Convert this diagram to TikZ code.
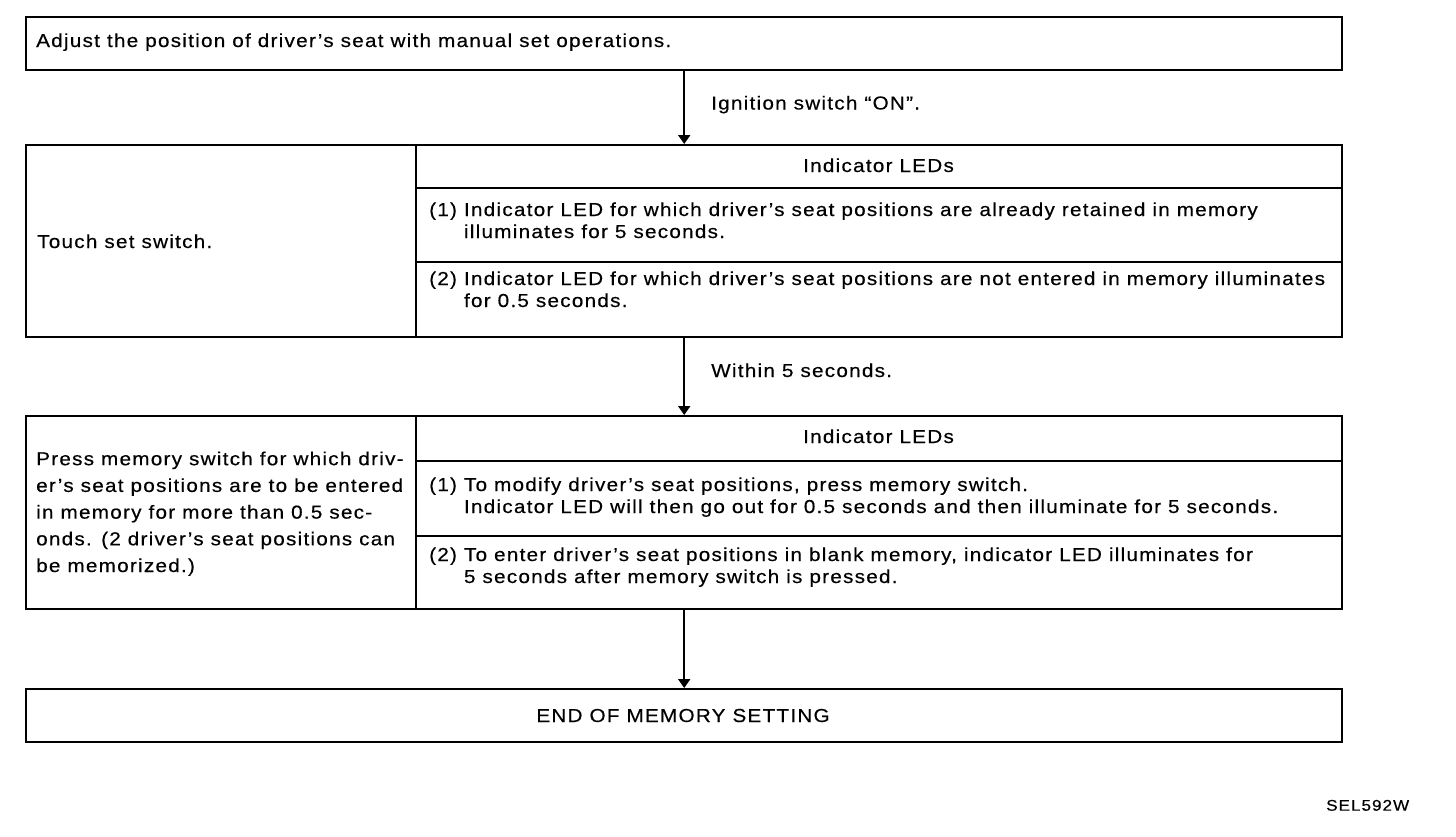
\documentclass[tikz,border=0pt]{standalone}
\usepackage{fontspec}
\setmainfont{Liberation Sans}[FakeStretch=1.1,LetterSpace=6.7,FakeBold=0.4]
\usetikzlibrary{arrows.meta}

\tikzset{
  box/.style={draw,line width=2.4pt,anchor=north west,inner sep=0pt,minimum width=1316pt},
  thick rule/.style={line width=2.4pt},
  thin rule/.style={line width=1.3pt},
  txt/.style={anchor=base west,inner sep=0pt,align=left,font=\fontsize{18.8}{22}\selectfont},
  ctxt/.style={txt,anchor=base},
  arrow/.style={line width=2pt,-{Triangle[width=12pt,length=9pt]}}
}
\newcommand{\hangin}{\phantom{(1) }}

\begin{document}
\begin{tikzpicture}[x=1pt,y=-1pt]
\useasboundingbox (0,0) rectangle (1456,836);

% the four frames
\node[box,minimum height=53pt] (adjust) at (25,16) {};
\node[box,minimum height=192pt] (touch) at (25,144) {};
\node[box,minimum height=193pt] (press) at (25,415) {};
\node[box,minimum height=53pt] (endset) at (25,688) {};

% inner rules
\draw[thick rule] (416,144) -- (416,336);
\draw[thin rule] (416,188) -- (1341,188);
\draw[thick rule] (416,262) -- (1341,262);
\draw[thick rule] (416,415) -- (416,608);
\draw[thin rule] (416,461) -- (1341,461);
\draw[thick rule] (416,536) -- (1341,536);

% connectors
\draw[arrow] (adjust.south) -- (touch.north);
\draw[arrow] (touch.south) -- (press.north);
\draw[arrow] (press.south) -- (endset.north);
\node[txt] (ignition) at (711,109.5) {Ignition switch “ON”.};
\node[txt] (within) at (711,377) {Within 5 seconds.};

% texts (multi-line nodes sit on their last baseline)
\node[txt] (adjust-text) at (36,47) {Adjust the position of driver’s seat with manual set operations.};

\node[txt] (touch-text) at (37,248) {Touch set switch.};
\node[ctxt] (touch-head) at (878.5,172) {Indicator LEDs};
\node[txt] (touch-one) at (429,238) {(1) Indicator LED for which driver’s seat positions are already retained in memory\\\hangin illuminates for 5 seconds.};
\node[txt] (touch-two) at (429,307) {(2) Indicator LED for which driver’s seat positions are not entered in memory illuminates\\\hangin for 0.5 seconds.};

\node[txt,font=\fontsize{18.8}{26.7}\selectfont] (press-text) at (36,572) {Press memory switch for which driv-\\er’s seat positions are to be entered\\in memory for more than 0.5 sec-\\onds. (2 driver’s seat positions can\\be memorized.)};
\node[ctxt] (press-head) at (878.5,443) {Indicator LEDs};
\node[txt] (press-one) at (429,513) {(1) To modify driver’s seat positions, press memory switch.\\\hangin Indicator LED will then go out for 0.5 seconds and then illuminate for 5 seconds.};
\node[txt] (press-two) at (429,583) {(2) To enter driver’s seat positions in blank memory, indicator LED illuminates for\\\hangin 5 seconds after memory switch is pressed.};

\node[ctxt] (endset-text) at (683,722) {END OF MEMORY SETTING};

\node[txt,font=\fontsize{15.5}{18}\selectfont] (figcode) at (1326,810.7) {SEL592W};
\end{tikzpicture}
\end{document}
